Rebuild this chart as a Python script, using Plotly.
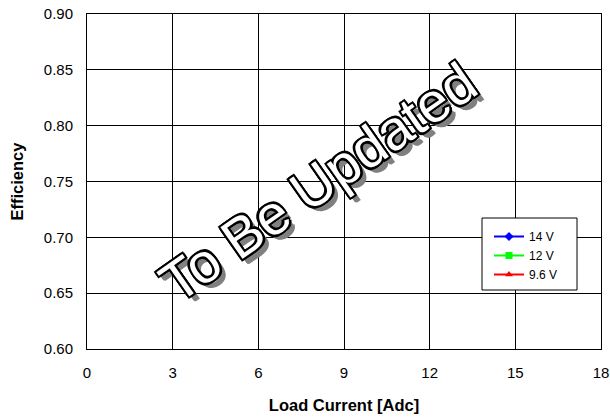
import plotly.graph_objects as go

# Efficiency vs. load current (series awaiting measurement data)
series_names = ["14 V", "12 V", "9.6 V"]
series_colors = ["#0000FF", "#00FF00", "#FF0000"]
series_symbols = ["diamond", "square", "triangle-up"]
load_current = [[None], [None], [None]]
efficiency = [[None], [None], [None]]

x_ticks = [0, 3, 6, 9, 12, 15, 18]
y_ticks = [0.60, 0.65, 0.70, 0.75, 0.80, 0.85, 0.90]

FONT = "Arial, Liberation Sans, sans-serif"

fig = go.Figure()
for name, color, sym, xs, ys in zip(series_names, series_colors, series_symbols,
                                    load_current, efficiency):
    fig.add_trace(go.Scatter(
        x=xs, y=ys, name=name, mode="lines+markers",
        line=dict(color=color, width=2),
        marker=dict(symbol=sym, size=7, color=color),
    ))

# Watermark: white letters, black outline, grey drop shadow
outline = ", ".join(
    f"{dx}px {dy}px 0 #000" for dx, dy in
    [(-2, -2), (2, -2), (-2, 2), (2, 2), (0, -2), (0, 2), (-2, 0), (2, 0)]
)
shadow = "1px 6px 0 #808080, 1px 7px 0 #808080, 2px 8px 0 #808080"
fig.add_annotation(
    text="To Be Updated", xref="paper", yref="paper",
    x=0.449, y=0.497, showarrow=False, textangle=-35,
    font=dict(family=FONT, size=56, color="white",
              shadow=outline + ", " + shadow),
)

# Legend frame
fig.add_shape(
    type="rect", xref="paper", yref="paper",
    x0=(482 - 87) / 514, x1=(577 - 87) / 514,
    y0=1 - (290 - 14) / 335, y1=1 - (218 - 14) / 335,
    line=dict(color="black", width=1), fillcolor="white", layer="above",
)

axis_font = dict(family=FONT, size=15, color="black")
title_font = dict(family=FONT, size=16.5, color="black")
fig.update_xaxes(
    range=[0, 18], tickvals=x_ticks, ticktext=[str(v) for v in x_ticks],
    showgrid=True, gridcolor="black", gridwidth=1,
    showline=True, linecolor="black", linewidth=1, mirror=True,
    zeroline=False, ticks="outside", ticklen=10, tickcolor="rgba(0,0,0,0)",
    tickfont=axis_font, automargin=False,
    title=dict(text="<b>Load Current [Adc]</b>", standoff=19, font=title_font),
)
fig.update_yaxes(
    range=[0.60, 0.90], tickvals=y_ticks, ticktext=[f"{v:.2f}" for v in y_ticks],
    showgrid=True, gridcolor="black", gridwidth=1,
    showline=True, linecolor="black", linewidth=1, mirror=True,
    zeroline=False, ticks="outside", ticklen=10, tickcolor="rgba(0,0,0,0)",
    tickfont=axis_font, automargin=False,
    title=dict(text="<b>Efficiency</b>", standoff=16, font=title_font),
)

fig.update_layout(
    width=610, height=418,
    margin=dict(l=87, r=9, t=14, b=69),
    paper_bgcolor="white", plot_bgcolor="white",
    legend=dict(
        x=(489 - 87) / 514, y=1 - (222 - 14) / 335, xanchor="left", yanchor="top",
        bgcolor="rgba(0,0,0,0)", borderwidth=0,
        font=dict(family=FONT, size=12, color="black"),
        itemwidth=30, tracegroupgap=0,
    ),
)

fig.write_html("out.html")
